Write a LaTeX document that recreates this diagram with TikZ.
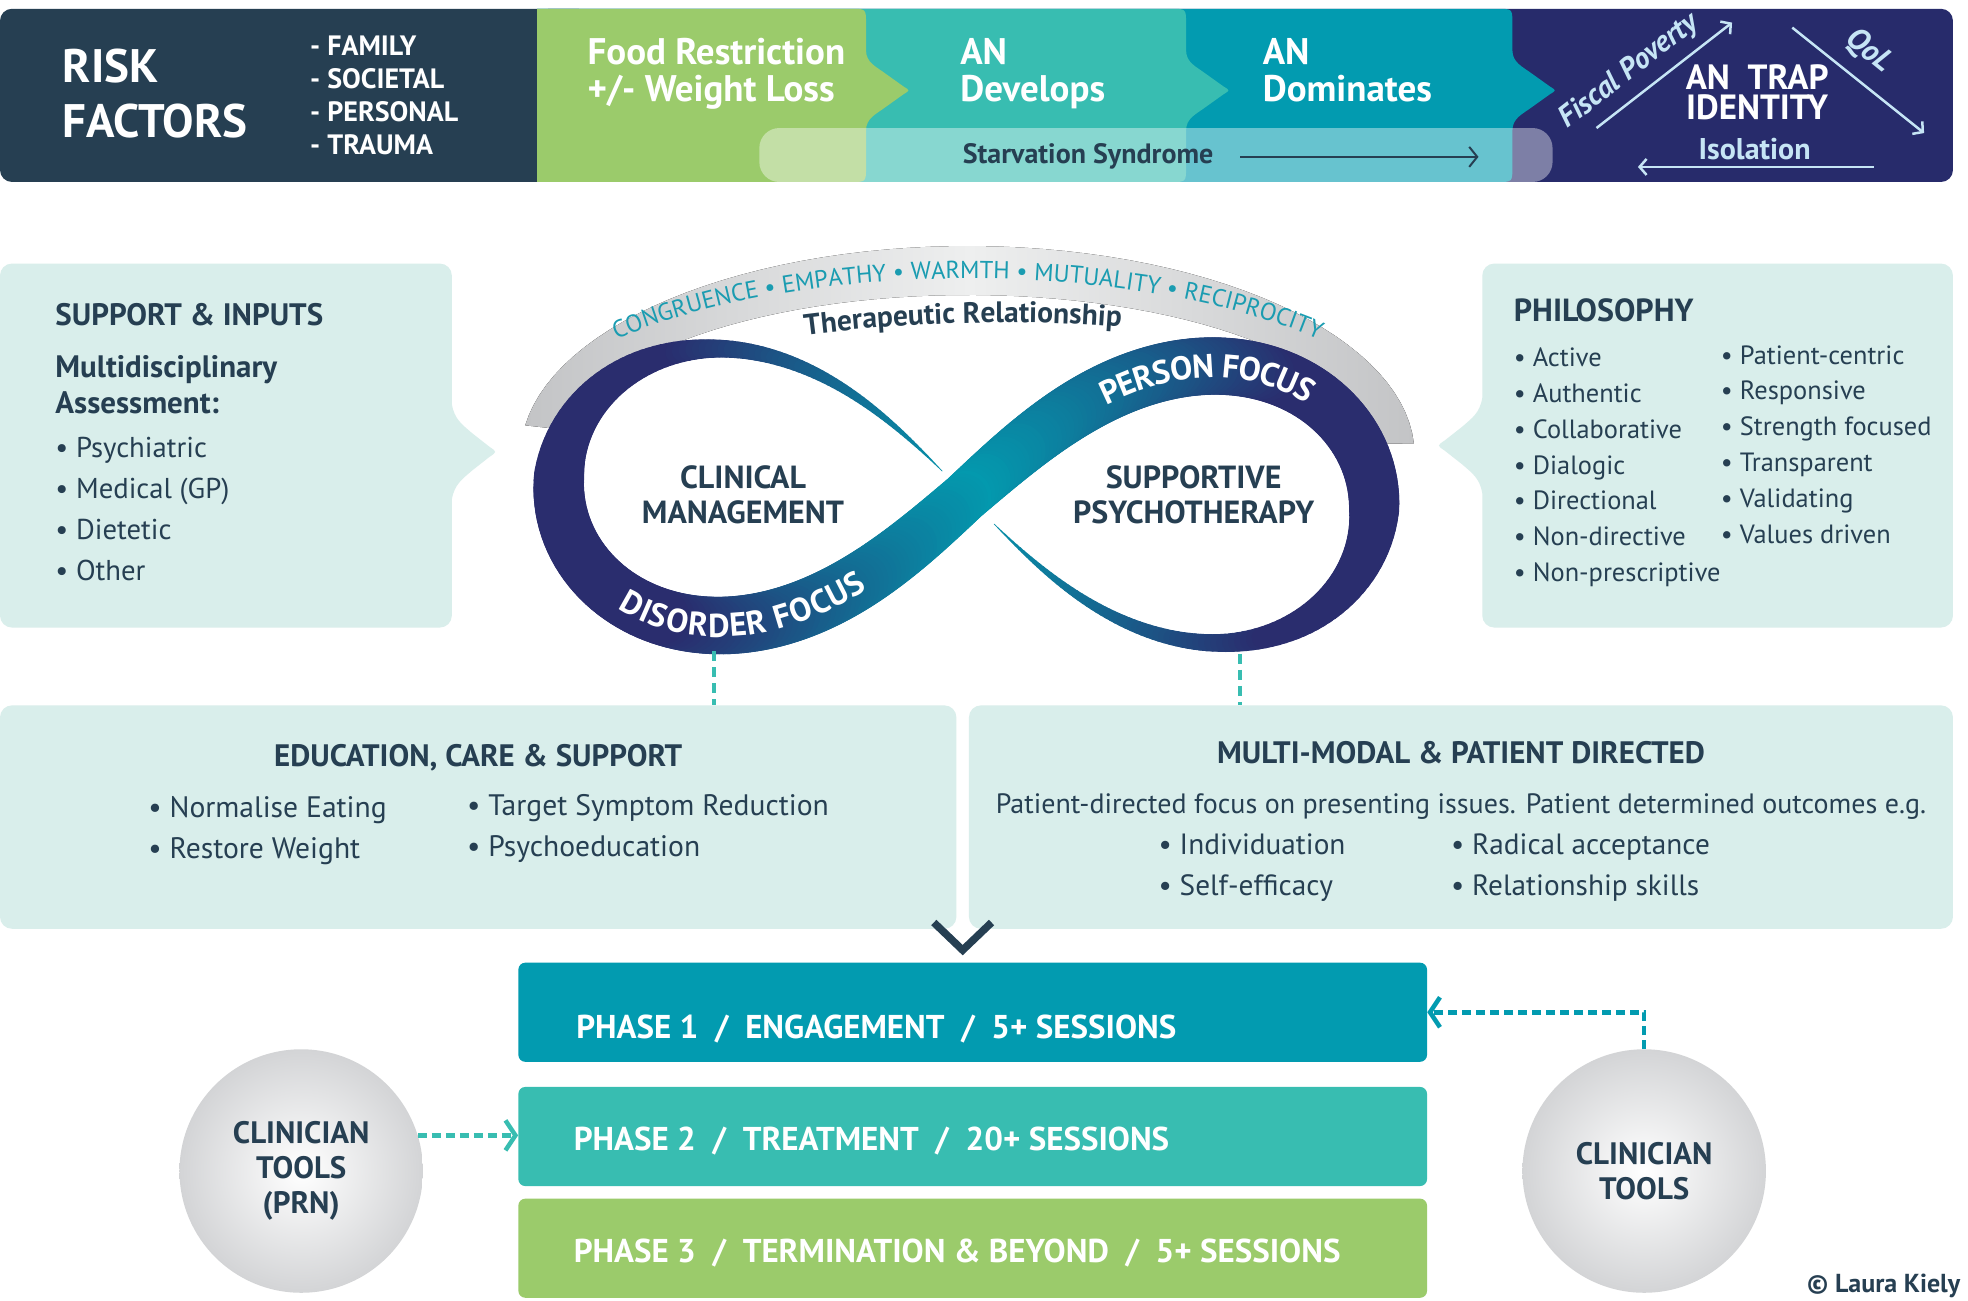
\documentclass[tikz,border=0pt]{standalone}
\usepackage{fontspec}
\setmainfont{PT Sans}
\usetikzlibrary{arrows.meta, positioning, decorations.text, calc}
\definecolor{slate}{HTML}{263F52}
\definecolor{leafgreen}{HTML}{9BCB6B}
\definecolor{midteal}{HTML}{38BDB1}
\definecolor{deepteal}{HTML}{029BB0}
\definecolor{trapnavy}{HTML}{272B6B}
\definecolor{mint}{HTML}{D9EEEB}
\definecolor{paleblue}{HTML}{C6E5F5}
\definecolor{arcteal}{HTML}{1A9CB1}
\definecolor{infnavy}{HTML}{2A2D6E}
\definecolor{infteal}{HTML}{0399AE}
\definecolor{arcgray}{HTML}{C3C4C6}
\definecolor{arclight}{HTML}{EEEFEF}
\definecolor{ballgray}{HTML}{D3D4D6}
\newcommand{\upx}{1.255pt}
\newcommand{\setfs}[2]{\fontsize{#1}{#2}\selectfont}
\tikzset{
    bandpiece/.style={insert path={(428,7) -- ({#1-12},7) .. controls ({#1},7) .. ({#1},19) -- ({#1},40) .. controls ({#1},50) and ({#1+8},53) .. ({#1+16},59) -- ({#1+30},69) .. controls ({#1+35},72) .. ({#1+30},75) -- ({#1+16},85) .. controls ({#1+8},91) and ({#1},94) .. ({#1},104) -- ({#1},133) .. controls ({#1},145) .. ({#1-12},145) -- (428,145) -- cycle}},
    bandtext/.style={text=white, font=\setfs{37}{36.5}\bfseries, align=left, inner sep=0pt, anchor=north west},
    traptext/.style={text=paleblue, font=\setfs{30}{30}\bfseries, inner sep=0pt},
    infobox/.style={rectangle, rounded corners=12pt, fill=mint, inner sep=0pt},
    listtext/.style={text=slate, align=left, inner sep=0pt, anchor=north west},
    headtext/.style={text=slate, font=\setfs{31}{31}\bfseries, inner sep=0pt},
    phasebox/.style={rectangle, rounded corners=7pt, minimum width=724*\upx, minimum height=79*\upx, inner sep=0pt},
    phasetext/.style={text=white, font=\setfs{33}{33}\bfseries, inner sep=0pt, anchor=base west},
    toolball/.style={circle, minimum size=194*\upx, inner sep=0pt, shading=radial, inner color=white, outer color=ballgray, align=center, text=slate, font=\setfs{31}{35}\bfseries},
}

\begin{document}
\begin{tikzpicture}[
    x=1.255pt, y=-1.255pt,
    declare function={lx(\q)=325*cos(\q)/(1+sin(\q)^2); ly(\q)=-312*sin(\q)*cos(\q)/(1+sin(\q)^2);},
    ribbon/.style={line cap=round},
    traparrow/.style={-{Straight Barb[length=7pt, width=16pt]}, paleblue, line width=2.5pt},
    starvarrow/.style={-{Straight Barb[length=8pt, width=20pt]}, slate, line width=2pt},
    linkdash/.style={midteal, line width=4pt, dash pattern=on 10pt off 6pt},
    toolarrow/.style={-{Straight Barb[length=10pt, width=30pt]}, line width=4.5pt, dash pattern=on 9pt off 5pt},
    vmark/.style={slate, line width=7.5pt}
]
\useasboundingbox (0,0) rectangle (1568,1036);
\fill[white] (0,0) rectangle (1568,1036);

% Top band
\fill[slate, rounded corners=12pt] (0,7) rectangle (470,145);
\fill[trapnavy, rounded corners=12pt] (428,7) rectangle (1556,145);
\fill[deepteal, bandpiece=1205];
\fill[midteal, bandpiece=945];
\fill[leafgreen, bandpiece=690];
\fill[white, fill opacity=0.4, rounded corners=20pt] (605,102) rectangle (1237,145);

\node[bandtext, font=\setfs{47}{55}\bfseries] (risk) at (50,39) {RISK\\FACTORS};
\node[bandtext, font=\setfs{28}{33}\bfseries] (risk-list) at (247,28) {- FAMILY\\- SOCIETAL\\- PERSONAL\\- TRAUMA};
\node[bandtext] (food) at (468,30.5) {Food Restriction\\+/- Weight Loss};
\node[bandtext] (develops) at (765,30.5) {AN\\Develops};
\node[bandtext] (dominates) at (1006,30.5) {AN\\Dominates};
\node[bandtext, font=\setfs{35}{30}\bfseries, align=center, anchor=north] (trap) at (1400,51.5) {AN~~TRAP\\IDENTITY};
\node[traptext] (isolation) at (1398,119) {Isolation};
\node[traptext, font=\setfs{30}{30}\bfseries\itshape, rotate=38] (fiscal) at (1298,57) {Fiscal Poverty};
\node[traptext, font=\setfs{31}{31}\bfseries\itshape, rotate=-39] (qol) at (1489,41) {QoL};
\coordinate (fp-a) at (1272,102);
\coordinate (fp-b) at (1380,18);
\coordinate (qol-a) at (1428,22);
\coordinate (qol-b) at (1533,106);
\coordinate (iso-a) at (1493,133);
\coordinate (iso-b) at (1305,133);
\draw[traparrow] (fp-a) -- (fp-b);
\draw[traparrow] (qol-a) -- (qol-b);
\draw[traparrow] (iso-a) -- (iso-b);

\node[text=slate, font=\setfs{28}{28}\bfseries, inner sep=0pt, anchor=base west] (starv) at (767,130) {Starvation Syndrome};
\coordinate (starv-start) at (988,125);
\coordinate (starv-end) at (1178,125);
\draw[starvarrow] (starv-start) -- (starv-end);

% Therapeutic relationship arc
\fill[left color=arcgray, right color=arcgray, middle color=arclight]
    plot[domain=172:3, samples=60] ({771+356*cos(\x)},{362-166*sin(\x)})
    -- plot[domain=3:172, samples=60] ({771+322*cos(\x)},{360-125*sin(\x)}) -- cycle;
\path[decorate, decoration={text along path, text align=center,
    text={|\setfs{24.5}{24.5}\color{arcteal}|CONGRUENCE • EMPATHY • WARMTH • MUTUALITY • RECIPROCITY}}]
    plot[domain=165:15, samples=80] ({771+370*cos(\x)},{362-140*sin(\x)});
\path[decorate, decoration={text along path, text align=center,
    text={|\setfs{29.5}{29.5}\bfseries\color{slate}|Therapeutic Relationship}}]
    plot[domain=620:915, samples=30] (\x,{257+(0.02*(\x-800))^2});

% Infinity ribbon
\begin{scope}[rotate around={-2:(770,395)}]
\foreach \ang in {180,...,359}{
    \pgfmathsetmacro\sv{\ang<270 ? \ang : 540-\ang}
    \pgfmathsetmacro\bw{\sv<215 ? 14+26*max(0.01,(215-\sv)/35)^1.3 : 14*max(0,264-\sv)/49}
    \pgfmathtruncatemacro\pmix{100*max(0,1-abs(lx(\ang))/240)}
    \pgfmathtruncatemacro\okseg{\bw>0.3}
    \ifnum\okseg=1
        \draw[ribbon, line width=\bw*\upx, draw=infteal!\pmix!infnavy] ({770+lx(\ang)},{395+ly(\ang)}) -- ({770+lx(\ang+1)},{395+ly(\ang+1)});
    \fi
}
\foreach \ang in {0,...,179}{
    \pgfmathsetmacro\bw{40+6*abs(sin(2*\ang))}
    \pgfmathtruncatemacro\pmix{100*max(0,1-abs(lx(\ang))/240)}
    \draw[ribbon, line width=\bw*\upx, draw=infteal!\pmix!infnavy] ({770+lx(\ang)},{395+ly(\ang)}) -- ({770+lx(\ang+1)},{395+ly(\ang+1)});
}
\path[decorate, decoration={text along path, text align=center, raise=-11.5pt,
    text={|\setfs{33}{33}\bfseries\color{white}|DISORDER FOCUS}}]
    plot[domain=172:100, samples=60, variable=\ang] ({770+lx(\ang)},{395+ly(\ang)});
\path[decorate, decoration={text along path, text align=center, raise=-11.5pt,
    text={|\setfs{33}{33}\bfseries\color{white}|PERSON FOCUS}}]
    plot[domain=78:4, samples=60, variable=\ang] ({770+lx(\ang)},{395+ly(\ang)});
\end{scope}
\node[headtext, font=\setfs{32}{35}\bfseries, align=center, anchor=north] (clinical) at (592,371) {CLINICAL\\MANAGEMENT};
\node[headtext, font=\setfs{32}{35}\bfseries, align=center, anchor=north] (supportive) at (951,371) {SUPPORTIVE\\PSYCHOTHERAPY};

% Side boxes
\node[infobox, minimum width=360*\upx, minimum height=290*\upx] (support) at (180,355) {};
\fill[mint] (350,322) -- (360,322) .. controls (362,334) and (368,338) .. (376,345) -- (390,356) .. controls (396,360) .. (390,364) -- (376,375) .. controls (368,382) and (362,386) .. (360,398) -- (350,398) -- cycle;
\node[headtext, anchor=base west] (support-title) at (44,259.5) {SUPPORT \& INPUTS};
\node[listtext, font=\setfs{31}{36}\bfseries] (support-sub) at (44,283) {Multidisciplinary\\Assessment:};
\node[listtext, font=\setfs{28.7}{41}] (support-list) at (44,348.5) {\textbullet\ Psychiatric\\\textbullet\ Medical (GP)\\\textbullet\ Dietetic\\\textbullet\ Other};

\node[infobox, minimum width=375*\upx, minimum height=290*\upx] (philosophy) at (1368.5,355) {};
\fill[mint] (1191,317) -- (1181,317) .. controls (1179,329) and (1173,333) .. (1165,340) -- (1151,351) .. controls (1145,355) .. (1151,359) -- (1165,370) .. controls (1173,377) and (1179,381) .. (1181,393) -- (1191,393) -- cycle;
\node[headtext, font=\setfs{32}{32}\bfseries, anchor=base west] (phil-title) at (1206,256) {PHILOSOPHY};
\node[listtext, font=\setfs{26.4}{35.8}] (phil-left) at (1206,277) {\textbullet\ Active\\\textbullet\ Authentic\\\textbullet\ Collaborative\\\textbullet\ Dialogic\\\textbullet\ Directional\\\textbullet\ Non-directive\\\textbullet\ Non-prescriptive};
\node[listtext, font=\setfs{26.4}{35.8}] (phil-right) at (1371,275) {\textbullet\ Patient-centric\\\textbullet\ Responsive\\\textbullet\ Strength focused\\\textbullet\ Transparent\\\textbullet\ Validating\\\textbullet\ Values driven};

% Lower boxes
\node[infobox, minimum width=762*\upx, minimum height=178*\upx] (education) at (381,651) {};
\node[headtext, anchor=base] (edu-title) at (381,610.5) {EDUCATION, CARE \& SUPPORT};
\node[listtext, font=\setfs{29.6}{41}] (edu-left) at (118,634.5) {\textbullet\ Normalise Eating\\\textbullet\ Restore Weight};
\node[listtext, font=\setfs{29.6}{41}] (edu-right) at (372,632.5) {\textbullet\ Target Symptom Reduction\\\textbullet\ Psychoeducation};

\node[infobox, minimum width=784*\upx, minimum height=178*\upx] (multimodal) at (1164,651) {};
\node[headtext, anchor=base] (multi-title) at (1164,608.5) {MULTI-MODAL \& PATIENT DIRECTED};
\node[headtext, font=\setfs{28}{28}, anchor=base] (multi-intro) at (1164,648.5) {Patient-directed focus on presenting issues. Patient determined outcomes e.g.};
\node[listtext, font=\setfs{29.3}{41}] (multi-left) at (923,664.5) {\textbullet\ Individuation\\\textbullet\ Self-efficacy};
\node[listtext, font=\setfs{29.3}{41}] (multi-right) at (1156,664.5) {\textbullet\ Radical acceptance\\\textbullet\ Relationship skills};

\coordinate (inf-left) at (569,519);
\coordinate (inf-right) at (988,521);
\draw[linkdash] (inf-left) -- (inf-left |- education.north);
\draw[linkdash] (inf-right) -- (inf-right |- multimodal.north);

% Phases
\node[phasebox, fill=deepteal] (phase1) at (775,806.5) {};
\node[phasebox, fill=midteal] (phase2) at (775,905.5) {};
\node[phasebox, fill=leafgreen] (phase3) at (775,994.5) {};
\node[phasetext] (phase1-text) at (459,827.5) {PHASE 1~~/~~ENGAGEMENT~~/~~5+ SESSIONS};
\node[phasetext] (phase2-text) at (457,916.5) {PHASE 2~~/~~TREATMENT~~/~~20+ SESSIONS};
\node[phasetext] (phase3-text) at (457,1005.5) {PHASE 3~~/~~TERMINATION \& BEYOND~~/~~5+ SESSIONS};

\coordinate (v-tip) at (767,757);
\draw[vmark] ([shift={(-23,-22)}]v-tip) -- (v-tip) -- ([shift={(23,-22)}]v-tip);

% Clinician tools
\node[toolball] (tools-left) at (240,933) {CLINICIAN\\TOOLS\\(PRN)};
\node[toolball] (tools-right) at (1310,933) {CLINICIAN\\TOOLS};
\draw[toolarrow, midteal] (tools-left.17) -- (tools-left.17 -| phase2.west);
\draw[toolarrow, deepteal] (tools-right.north) |- (phase1.east);

\node[text=slate, font=\setfs{26}{26}\bfseries, inner sep=0pt, anchor=base east] (credit) at (1562,1030) {© Laura Kiely};

\end{tikzpicture}
\end{document}
